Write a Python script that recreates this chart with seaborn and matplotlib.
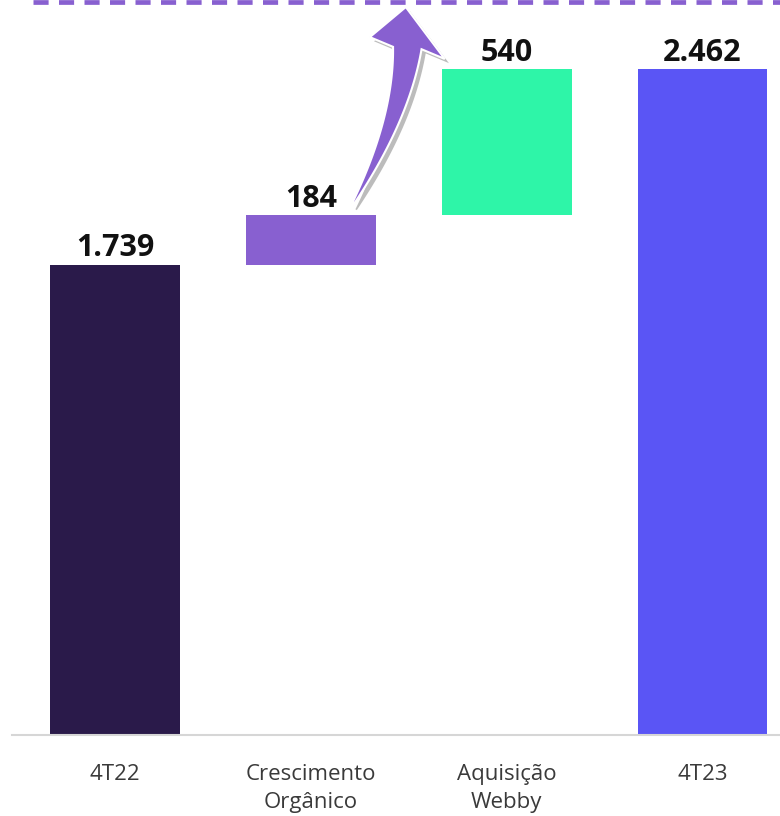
import matplotlib
matplotlib.use("Agg")
import matplotlib.pyplot as plt
import matplotlib.patheffects as pe
from matplotlib.patches import Polygon
from matplotlib.transforms import IdentityTransform
import numpy as np
import seaborn as sns
import pandas as pd

categories = ["4T22", "Crescimento\nOrgânico", "Aquisição\nWebby", "4T23"]
values = [1739, 184, 540, 2462]
value_labels = ["1.739", "184", "540", "2.462"]
bases = [0, 1739, 1923, 0]
colors = ["#2A1A4A", "#8860D0", "#2EF5A8", "#5A55F5"]

sns.set_theme(style="white")
plt.rcParams["font.family"] = ["Open Sans", "DejaVu Sans"]

W, H = 780, 816
fig = plt.figure(figsize=(W / 100, H / 100), dpi=100)
ax = fig.add_axes([12 / W, (H - 735) / H, (W - 12) / W, 735 / H])

df = pd.DataFrame({"cat": categories, "val": values})
sns.barplot(data=df, x="cat", y="val", hue="cat", palette=colors,
            legend=False, width=0.663, saturation=1, ax=ax, order=categories)

# waterfall: lift floating bars onto their bases
for patch, b in zip(ax.patches, bases):
    patch.set_y(b)
    patch.set_edgecolor("none")

ax.set_xlim(-0.526, 3.396)
ax.set_ylim(0, 2718)

for i, (v, b, lab) in enumerate(zip(values, bases, value_labels)):
    ax.annotate(lab, (i, b + v), xytext=(0, 6), textcoords="offset points",
                ha="center", va="baseline", fontsize=22, fontweight="bold",
                color="#111111")

# dashed reference line at the top
ax.plot([-0.42, 3.396], [2712, 2712], color="#8860D0", lw=3.4,
        linestyle=(0, (3.2, 2.2)), clip_on=False,
        dash_capstyle="butt", zorder=5)

ax.set_xlabel("")
ax.set_ylabel("")
ax.set_yticks([])
ax.set_xticks(range(len(categories)))
ax.set_xticklabels(categories, linespacing=1.45)
ax.tick_params(axis="x", length=0, pad=21, labelsize=16, colors="#3a3a3a")
for s in ["top", "left", "right"]:
    ax.spines[s].set_visible(False)
ax.spines["bottom"].set_color("#D6D6D6")
ax.spines["bottom"].set_linewidth(1.5)

# curved tapered arrow (display coordinates, anchored to data points)
fig.canvas.draw()
start = ax.transData.transform((1.21, 1958))
tip = ax.transData.transform((1.485, 2692))
E = tip + np.array([1.5, -41.0])
n_head = np.array([0.96, -0.28])
ctrl = E + np.array([-6.0, -72.0])
ts = np.linspace(0, 1, 60)
left_pts, right_pts = [], []
for t in ts:
    p = (1 - t) ** 2 * start + 2 * t * (1 - t) * ctrl + t ** 2 * E
    tan = 2 * (1 - t) * (ctrl - start) + 2 * t * (E - ctrl)
    tan = tan / np.linalg.norm(tan)
    nrm = np.array([tan[1], -tan[0]])
    hw = 0.8 + 13.5 * t
    left_pts.append(p - hw * nrm)
    right_pts.append(p + hw * nrm)
head = [E - 39 * n_head, tip, E + 39 * n_head]
pts = np.vstack([left_pts, head, right_pts[::-1]])
arrow = Polygon(pts, closed=True, transform=IdentityTransform(),
                facecolor="#8860D0", edgecolor="white", lw=1.5,
                clip_on=False, zorder=6)
arrow.set_path_effects([pe.SimplePatchShadow(offset=(3, -3), shadow_rgbFace="#7a7a7a", alpha=0.5),
                        pe.Normal()])
ax.add_patch(arrow)

fig.savefig("out.png", dpi=100)
